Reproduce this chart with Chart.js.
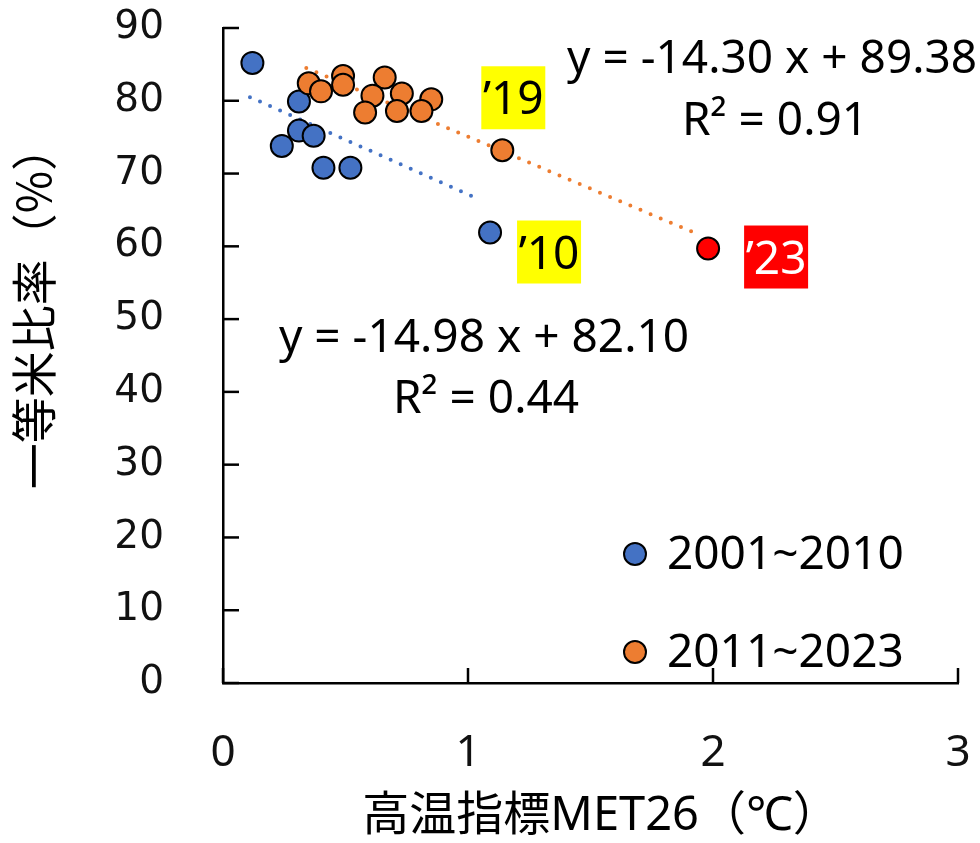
<!DOCTYPE html>
<html>
<head>
<meta charset="utf-8">
<script src="https://cdn.jsdelivr.net/npm/chart.js@4.4.1/dist/chart.umd.min.js"></script>
<style>
  html, body { margin: 0; padding: 0; background: #fff; }
</style>
</head>
<body>
<canvas id="metChart" width="980" height="843"></canvas>
<script>
// 2001~2010
const earlyX = [0.12, 0.31, 0.24, 0.31, 0.37, 0.41, 0.52, 1.09];
const earlyY = [85.2, 79.9, 73.8, 75.9, 75.2, 70.8, 70.8, 61.9];
// 2011~2023 (last one is '23)
const lateX = [0.35, 0.40, 0.49, 0.49, 0.66, 0.61, 0.58, 0.73, 1.14, 0.71, 0.85, 0.81, 1.98];
const lateY = [82.4, 81.3, 83.4, 82.2, 83.2, 80.7, 78.4, 81.0, 73.2, 78.6, 80.2, 78.6, 59.7];

// trendline ends
const earlyTrendX = [0.11, 1.05];
const earlyTrendY = [80.5, 66.4];
const lateTrendX = [0.34, 1.95];
const lateTrendY = [84.5, 61.5];

const xTicks = [0, 1, 2, 3];
const yTicks = [0, 10, 20, 30, 40, 50, 60, 70, 80, 90];

const seriesNames = ['2001~2010', '2011~2023'];
const blue = '#4472C4';
const orange = '#ED7D31';

const toPts = (xs, ys) => xs.map((v, i) => ({ x: v, y: ys[i] }));

// year tags: dataset index, point index, text, offset from point, colours
const tags = [
  { ds: 0, i: 7, text: '\u201910', dx: 27, dy: -12, bg: '#FFFF00', fg: '#000' },
  { ds: 1, i: 8, text: '\u201919', dx: -21, dy: -84, bg: '#FFFF00', fg: '#000' },
  { ds: 1, i: 12, text: '\u201923', dx: 36, dy: -23, bg: '#FF0000', fg: '#fff' }
];

const txtFont = '46px "Noto Sans", "Open Sans", sans-serif';

// drop the extra room Chart.js keeps for first/last labels
const noPad = s => { s.paddingTop = 0; s.paddingBottom = 0; s.paddingLeft = 0; s.paddingRight = 0; };

const decor = {
  id: 'decor',
  beforeDatasetsDraw(chart) {
    const { ctx, chartArea: a, scales: { x, y } } = chart;
    ctx.save();
    ctx.strokeStyle = '#000';
    ctx.lineWidth = 2.5;
    y.ticks.forEach(t => {
      const py = y.getPixelForValue(t.value);
      ctx.beginPath(); ctx.moveTo(a.left, py); ctx.lineTo(a.left + 16, py); ctx.stroke();
    });
    x.ticks.forEach(t => {
      const px = x.getPixelForValue(t.value);
      ctx.beginPath(); ctx.moveTo(px, a.bottom); ctx.lineTo(px, a.bottom - 15); ctx.stroke();
    });
    ctx.restore();
  },
  afterDatasetsDraw(chart) {
    const { ctx } = chart;
    ctx.save();
    ctx.fillStyle = '#000';
    ctx.font = txtFont;
    ctx.textBaseline = 'alphabetic';

    // regression equations
    ctx.textAlign = 'left';
    ctx.fillText('y = -14.30 x + 89.38', 567, 73);
    ctx.textAlign = 'center';
    ctx.fillText('R\u00b2 = 0.91', 775, 135);
    ctx.fillText('y = -14.98 x + 82.10', 484, 352);
    ctx.fillText('R\u00b2 = 0.44', 486, 413);

    // year tags
    tags.forEach(tg => {
      const el = chart.getDatasetMeta(tg.ds).data[tg.i];
      const bx = el.x + tg.dx, by = el.y + tg.dy;
      ctx.fillStyle = tg.bg;
      ctx.fillRect(bx, by, 64, 63);
      ctx.fillStyle = tg.fg;
      ctx.textAlign = 'center';
      ctx.fillText(tg.text, bx + 32, by + 48);
    });

    // legend
    const legendY = [554, 652];
    const legendFill = [blue, orange];
    legendY.forEach((ly, k) => {
      ctx.beginPath();
      ctx.arc(635, ly, 11, 0, Math.PI * 2);
      ctx.fillStyle = legendFill[k];
      ctx.fill();
      ctx.lineWidth = 2;
      ctx.strokeStyle = '#000';
      ctx.stroke();
      ctx.fillStyle = '#000';
      ctx.textAlign = 'left';
      ctx.textBaseline = 'middle';
      ctx.fillText(seriesNames[k], 667, ly + 2);
    });

    // axis titles
    ctx.textBaseline = 'alphabetic';
    ctx.textAlign = 'center';
    ctx.font = '47px "Noto Sans", "Noto Sans CJK JP", sans-serif';
    ctx.fillText('高温指標MET26（℃）', 601, 830);

    ctx.translate(34, 307);
    ctx.rotate(-Math.PI / 2);
    ctx.textBaseline = 'middle';
    ctx.font = '46px "Noto Sans CJK JP", sans-serif';
    ctx.fillText('一等米比率（%）', 0, 0);
    ctx.restore();
  }
};

const pointColor = c => {
  const last = c.dataset.data.length - 1;
  return c.dataIndex === last ? '#FF0000' : orange;
};

new Chart(document.getElementById('metChart'), {
  type: 'scatter',
  data: {
    datasets: [
      {
        label: seriesNames[0],
        data: toPts(earlyX, earlyY),
        backgroundColor: blue,
        borderColor: '#000',
        borderWidth: 2,
        pointRadius: 11,
        order: 1
      },
      {
        label: seriesNames[1],
        data: toPts(lateX, lateY),
        backgroundColor: pointColor,
        borderColor: '#000',
        borderWidth: 2,
        pointRadius: 11,
        order: 0
      },
      {
        label: 'trend1',
        data: toPts(earlyTrendX, earlyTrendY),
        showLine: true,
        borderColor: blue,
        borderWidth: 4,
        borderDash: [0, 11],
        borderCapStyle: 'round',
        pointRadius: 0,
        order: 3
      },
      {
        label: 'trend2',
        data: toPts(lateTrendX, lateTrendY),
        showLine: true,
        borderColor: orange,
        borderWidth: 4,
        borderDash: [0, 11],
        borderCapStyle: 'round',
        pointRadius: 0,
        order: 2
      }
    ]
  },
  options: {
    responsive: false,
    animation: false,
    devicePixelRatio: 1,
    layout: { padding: { left: 0, right: 22, top: 28, bottom: 0 } },
    plugins: {
      legend: { display: false },
      tooltip: { enabled: false }
    },
    scales: {
      x: {
        type: 'linear',
        min: 0,
        max: 3,
        afterBuildTicks: s => { s.ticks = xTicks.map(v => ({ value: v })); },
        afterFit: s => { s.height = 160; noPad(s); },
        grid: { display: false },
        border: { display: true, color: '#000', width: 2.5 },
        ticks: {
          color: '#111',
          padding: 36,
          maxRotation: 0,
          font: { family: '"Noto Sans", sans-serif', size: 44 }
        }
      },
      y: {
        type: 'linear',
        min: 0,
        max: 90,
        afterBuildTicks: s => { s.ticks = yTicks.map(v => ({ value: v })); },
        afterFit: s => { s.width = 223; noPad(s); },
        grid: { display: false },
        border: { display: true, color: '#000', width: 2.5 },
        ticks: {
          color: '#111',
          padding: 51,
          font: { family: '"DejaVu Sans", sans-serif', size: 39 }
        }
      }
    }
  },
  plugins: [decor]
});
</script>
</body>
</html>
